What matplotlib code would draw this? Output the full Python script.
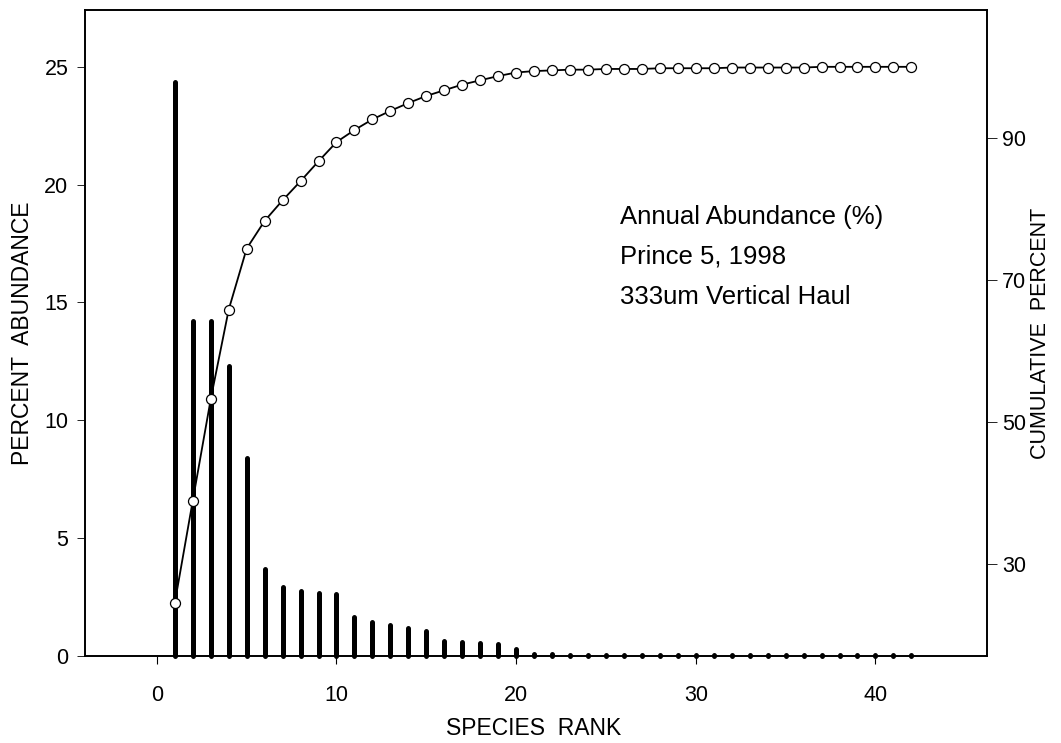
import numpy as np
import matplotlib
matplotlib.use("Agg")
import matplotlib.pyplot as plt

# Species rank abundance, Prince 5, 1998 (333um vertical haul)
rank = np.arange(1, 43)
percent_abundance = [24.35, 14.2, 14.2, 12.3, 8.4, 3.7, 2.95, 2.75, 2.67, 2.62,
                     1.65, 1.45, 1.3, 1.2, 1.05, 0.65, 0.6, 0.55, 0.5, 0.32,
                     0.07, 0.07, 0.06, 0.06, 0.06, 0.06, 0.05, 0.05, 0.05, 0.05,
                     0.05, 0.05, 0.05, 0.04, 0.04, 0.04, 0.04, 0.04, 0.04, 0.04,
                     0.04, 0.04]
cumulative_percent = [24.5, 38.9, 53.2, 65.8, 74.4, 78.3, 81.2, 83.9, 86.7, 89.4,
                      91.1, 92.6, 93.8, 94.9, 95.9, 96.7, 97.5, 98.1, 98.7, 99.2,
                      99.4, 99.5, 99.6, 99.6, 99.7, 99.7, 99.7, 99.8, 99.8, 99.8,
                      99.8, 99.9, 99.9, 99.9, 99.9, 99.9, 100.0, 100.0, 100.0, 100.0,
                      100.0, 100.0]

x_ticks = [0, 10, 20, 30, 40]
left_ticks = [0, 5, 10, 15, 20, 25]
right_ticks = [30, 50, 70, 90]
note_lines = ["Annual Abundance (%)", "Prince 5, 1998", "333um Vertical Haul"]

plt.rcParams['font.family'] = ['Liberation Sans', 'DejaVu Sans']

fig = plt.figure(figsize=(10.61, 7.43), dpi=100)
ax = fig.add_axes([0.0801, 0.117, 0.850, 0.8695])

# abundance bars drawn as thick round-capped lines
ax.vlines(rank, 0, percent_abundance, colors='black', linewidth=3.6,
          capstyle='round', clip_on=False, zorder=2)
ax.set_xlim(-4, 46.2)
ax.set_ylim(0, 27.4)
ax.set_xticks(x_ticks)
ax.set_yticks(left_ticks)
ax.tick_params(axis='x', direction='out', length=6, width=0.8, pad=15, labelsize=15.5)
ax.tick_params(axis='y', direction='out', length=6, width=0.6, pad=6, labelsize=15.5)
ax.set_xlabel('SPECIES  RANK', fontsize=16.5, va='center')
ax.xaxis.set_label_coords(0.497, -0.112)
ax.set_ylabel('PERCENT  ABUNDANCE', fontsize=16.5, va='center')
ax.yaxis.set_label_coords(-0.0698, 0.5)

for i, line in enumerate(note_lines):
    ax.text(25.8, 18.64 - 1.7 * i, line, fontsize=18.5, va='center', ha='left')

# cumulative curve on the right axis
ax2 = ax.twinx()
ax2.plot(rank, cumulative_percent, color='black', linewidth=1.3, marker='o',
         markersize=7.2, markerfacecolor='white', markeredgecolor='black',
         markeredgewidth=0.9, zorder=3)
ax2.set_ylim(17.0, 108.0)
ax2.set_yticks(right_ticks)
ax2.tick_params(axis='y', direction='out', length=7, width=0.6, pad=4, labelsize=15.5)
ax2.set_ylabel('CUMULATIVE  PERCENT', fontsize=15.5, va='center')
ax2.yaxis.set_label_coords(1.06, 0.5)

for a in (ax, ax2):
    for s in a.spines.values():
        s.set_linewidth(1.2)

fig.savefig('out.png', dpi=100)
